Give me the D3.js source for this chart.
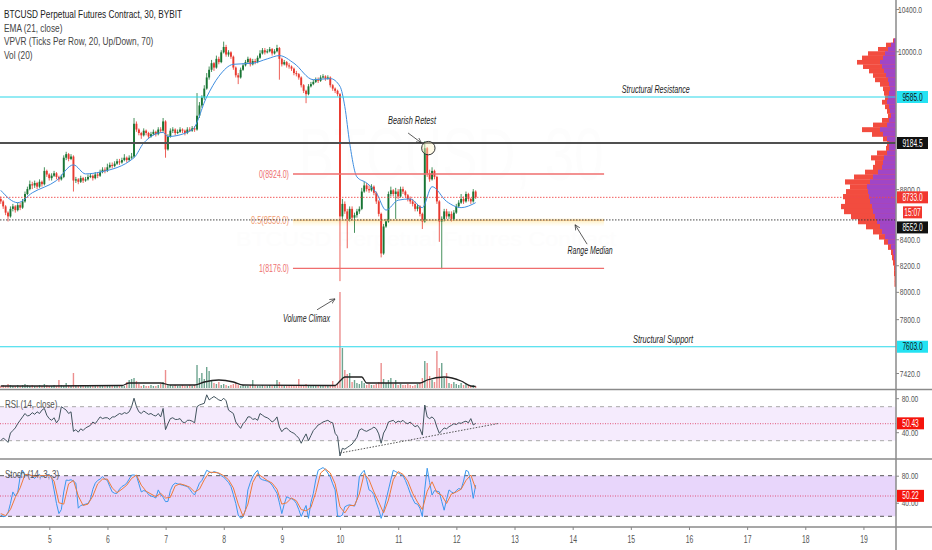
<!DOCTYPE html>
<html>
<head>
<meta charset="utf-8">
<script src="https://cdn.jsdelivr.net/npm/d3@7"></script>
<style>
html, body { margin: 0; padding: 0; background: #fff; overflow: hidden; }
svg { display: block; font-family: "Liberation Sans", Arial, sans-serif; }
</style>
</head>
<body>
<svg id="chart" width="932" height="550"></svg>
<script>
// ---- data (30m BTCUSD, shown here as hourly bars) ----
const startDay = 4.165, barDays = 1 / 24;
const open0 = 8720;
const closes = [8700,8660,8610,8580,8640,8660,8630,8670,8650,8700,8760,8800,8840,8830,8850,8820,8860,8840,8950,
  8920,8890,8910,8930,8900,8880,8900,9060,9090,9050,9070,8870,8880,8860,8890,8870,8880,8900,8910,8890,8920,8910,8940,
  8960,8950,8980,9000,8990,9010,9030,9020,9040,9060,9040,9060,9070,9350,9300,9270,9250,9290,9270,9240,9260,9280,9260,
  9300,9290,9370,9130,9240,9290,9300,9270,9280,9300,9290,9270,9300,9290,9310,9300,9420,9510,9580,9660,9760,9830,9890,
  9850,9930,9900,9990,10040,9970,9990,9950,9850,9780,9760,9830,9870,9900,9930,9880,9910,9900,9940,9980,10010,9990,
  10000,10020,9980,10000,10030,9930,9880,9900,9870,9860,9840,9800,9790,9760,9690,9640,9610,9680,9700,9720,9740,9730,
  9760,9770,9750,9760,9690,9660,9640,9610,8580,8680,8620,8560,8640,8570,8590,8620,8640,8780,8830,8800,8790,8820,8770,
  8700,8600,8290,8500,8540,8760,8790,8760,8780,8740,8800,8780,8750,8720,8700,8680,8640,8660,8600,8540,9140,8930,8880,
  8950,8900,8700,8540,8560,8620,8580,8600,8560,8610,8660,8690,8720,8700,8760,8720,8700,8780,8733];
const highs = [8740,8710,8670,8620,8660,8680,8670,8690,8690,8720,8780,8820,8870,8860,8870,8860,8880,8870,8980,8960,
  8930,8930,8950,8940,8910,8920,9080,9110,9100,9090,9080,8900,8890,8910,8900,8900,8920,8930,8920,8940,8940,8960,8980,
  8980,9010,9020,9020,9030,9050,9050,9060,9090,9070,9080,9100,9400,9370,9310,9280,9310,9300,9280,9280,9300,9290,9320,
  9320,9400,9380,9260,9310,9320,9310,9300,9320,9310,9300,9320,9320,9330,9330,9620,9540,9600,9690,9800,9860,9920,9900,
  9960,9950,10010,10090,10060,10010,10000,9960,9860,9800,9850,9890,9920,9950,9940,9930,9930,9960,10010,10030,10030,
  10020,10040,10030,10020,10060,10040,9940,9920,9910,9890,9870,9850,9820,9800,9770,9700,9650,9700,9720,9740,9760,9760,
  9780,9790,9780,9780,9770,9700,9670,9650,9620,8720,8700,8640,8660,8660,8610,8640,8660,8810,8860,8850,8830,8840,8830,
  8780,8710,8610,8520,8560,8780,8820,8800,8810,8800,8820,8820,8790,8760,8740,8720,8700,8680,8670,8610,9200,9150,8960,
  8980,8960,8910,8710,8580,8640,8640,8620,8620,8630,8680,8710,8760,8740,8780,8770,8730,8800,8790];
const lows = [8680,8640,8590,8540,8570,8620,8610,8620,8630,8640,8690,8750,8790,8800,8810,8800,8810,8820,8830,8900,
  8870,8870,8900,8880,8860,8870,8890,9040,9030,9040,8780,8850,8840,8850,8850,8860,8870,8890,8870,8880,8890,8900,8930,
  8930,8940,8970,8970,8980,9000,9000,9010,9030,9020,9030,9050,9060,9280,9250,9220,9240,9250,9220,9230,9250,9240,9250,
  9270,9280,9060,9120,9230,9270,9250,9260,9270,9270,9250,9260,9280,9280,9280,9290,9400,9490,9560,9650,9740,9810,9820,
  9840,9880,9890,9980,9950,9950,9930,9830,9760,9700,9750,9820,9860,9890,9860,9870,9880,9890,9930,9970,9970,9980,9990,
  9960,9970,9990,9740,9860,9870,9850,9840,9820,9780,9770,9740,9670,9620,9530,9600,9670,9690,9710,9710,9720,9750,9730,
  9740,9670,9640,9620,9590,8080,8560,8600,8330,8540,8550,8450,8570,8600,8630,8770,8780,8770,8780,8750,8680,8580,8260,
  8280,8490,8530,8740,8740,8560,8720,8730,8760,8730,8700,8680,8660,8620,8620,8580,8480,8530,8900,8860,8870,8880,8680,
  8380,8170,8540,8560,8560,8540,8550,8600,8650,8680,8680,8690,8700,8680,8690,8720];
const volumes = [2,3,2,4,3,2,2,3,2,3,4,3,2,3,2,2,3,2,4,3,2,2,3,2,8,3,2,5,3,2,15,3,2,2,3,2,3,2,2,3,2,2,3,2,2,3,2,3,2,2,
  3,2,6,8,9,10,7,4,2,3,2,2,3,2,2,3,4,6,18,4,3,2,3,2,2,3,2,2,3,2,3,23,10,15,9,21,17,8,5,4,6,3,4,3,2,3,4,5,3,2,3,2,2,3,8,
  3,2,2,3,2,2,3,2,3,8,6,3,2,2,3,2,2,3,9,3,2,4,3,2,2,3,2,2,3,2,2,3,7,3,5,96,40,18,14,15,6,8,5,4,7,5,3,4,3,3,4,6,25,9,5,
  8,10,4,8,3,4,3,3,4,3,2,3,4,5,10,27,25,12,8,6,37,20,25,10,15,5,4,6,4,3,5,3,4,3,2,3,2];
const emaIdx = [0,7,13,23,30,35,41,55,59,67,69,79,85,90,96,104,110,115,121,129,136,140,142,144,147,151,155,159,164,169,174,178,184,190,196];
const emaVal = [8790,8690,8770,8870,9000,8925,8940,9060,9185,9275,9240,9297,9585,9770,9880,9890,9930,9960,9890,9740,9750,9680,9500,9185,8900,8850,8770,8630,8710,8720,8650,8820,8700,8650,8690];
const volMaIdx = [0,20,50,53,66,70,80,84,90,96,100,138,140,142,149,151,173,176,183,190,194,196];
const volMaVal = [2,2,2.5,5,5,3,3,6,8,6,3,2.5,7,11,11,5,5,8,11,7,2,1.5];
const rsi = [30,33,31,28,39,42,45,50,54,58,62,59,60,63,61,64,62,66,68,60,56,54,57,51,55,70,68,66,62,64,41,43,40,44,42,
  45,46.5,48,52,50,54,58,56,57,57,55,58,58,60,62,61,63,62,64,70,80,70,64,62,65,63,61,62,60,59,62,58,68,43,50,56,57,55,
  55,56,52,51,54,54,53,51,70,72,73,74,84,78,80,82,80,78,77,80,77,66,64,62,52,48,44.5,50,53,58,58,55,56,54,62,60,58,57,
  55,52,54,58,46,40.6,44,45,42,40,38.7,36,33,27,33,38,30,36,42,45,48.5,50,52,53,54,52,51,38.7,35,12,21,20,22,24,26,30,
  34,42.6,44,42,41,42.6,44,46,44,38,27,39,44,52,53,54,51,53,52,54,51,50,52,49,46.5,48,44,36.6,72,58,56,58,55,46,38.7,
  42,45,44,46.5,48,50,49,51,50.4,52,53,51,56,48.5,50.43];
const stochK = [22,19.5,20,25,39,56,50,55,78.5,88,80,82,81,79,76,80,82,78,80,81,82,78,59,39,24,30,56,73.6,73,74,72,69,
  32,36,37,38,39,45,60,69,73,75,78.5,75,73,64,56,54,54,60,64,66,69,75,81,81,80,68,56,58,57,52,50,49,47,59,52,48,41.6,
  42,58,66,69,68,67,66,65,64,60,55,51.4,60,69,73,80,88,86,84,86,85,83,80,78,74,70,64,52,39,22,17,19,30,59,70,78.5,84,
  88,76,74,73,72,70,66,60,54,40,24,38,49,47,46,44,39,30,19.5,28,36,17,40,54,73.6,88,90,92,89,84,78,68,59,20.4,19.5,22,
  34,36,37,36,35,45,78.5,84,88,74,59,57,52,40,30,17,28,44,59,74,88,86,84,82,80,73,64,54,46,39,38,32,19.5,60,91,70,51.4,
  58,57,56,42,29,45,59,56,54,58,61,60,72,88,86,70,46.5,66];
// %D sampled every second bar
const stochD = [24,21,30,48,62,82,81,79,80,80,81,72,40,38,68,73,50,36,38,50,68,75,75,62,55,60,66,76,81,66,57,53,49,54,
  47,48,65,68,66,63,56,60,74,85,85,84,80,74,62,38,20,38,70,83,78,73,69,60,38,40,47,43,30,28,33,55,84,90,84,68,34,25,36,
  36,53,83,74,56,41,25,44,74,86,82,72,54,41,30,57,71,55,51,39,53,56,60,73,81,61];
// visible range volume profile (row centre price, up volume, down volume)
const vpPrice = [10100,10060,10020,9980,9940,9900,9860,9820,9780,9740,9700,9660,9620,9580,9540,9500,9460,9420,9380,9340,
  9300,9260,9220,9180,9140,9100,9060,9020,8980,8940,8900,8860,8820,8780,8740,8700,8660,8620,8580,8540,8500,8460,8420,
  8380,8340,8300,8260,8220,8180,8140,8100,8060];
const vpUp = [2,5,8,11,13,16,14,12,10,8,7,6,7,8,9,7,6,5,7,9,16,13,9,7,7,9,12,13,14,18,23,26,29,28,27,26,24,23,21,19,16,
  14,11,8,5,3,2,1,0.5,0,0,0];
const vpDown = [1,5,10,17,21,23,19,15,13,13,9,7,5,3,5,4,3,3,7,14,18,11,4,2,3,10,13,8,9,13,19,25,17,22,26,25,31,29,24,19,
  14,9,6,4,3,2,2,2,1.5,2,1.5,1.5];
const dayTicks = [5,6,7,8,9,10,11,12,13,14,15,16,17,18,19];
const priceTicks = [10400,10000,8800,8400,8200,8000,7800,7420];
const fibPrices = [8924.0, 8550.0, 8176.0];
const fibNames = ["0", "0.5", "1"];
const fibDays = [9.19, 14.54];
const rsiTrend = [[10.0, 15.5], [12.74, 50.5]];
const legendLines = ["BTCUSD Perpetual Futures Contract, 30, BYBIT", "EMA (21, close)", "VPVR (Ticks Per Row, 20, Up/Down, 70)", "Vol (20)"];

window.addEventListener("load", main);

function narrow(sel, k)
{
    sel.each(function() {
        const w = this.getComputedTextLength();
        d3.select(this).attr("textLength", w * k).attr("lengthAdjust", "spacingAndGlyphs");
    });
}

function main()
{
    const svg = d3.select("svg#chart");
    const plotR = 896;
    const tAt = i => startDay + i * barDays;

    const x = d3.scaleLinear().domain([4.152, 19.56]).range([0, plotR]);
    const y = d3.scaleLog().domain([10400, 7420]).range([9, 373]);
    const yVol = d3.scaleLinear().domain([0, 100]).range([388, 288]);
    const yRsi = d3.scaleLinear().domain([70, 30]).range([406.7, 440.7]);
    const ySto = d3.scaleLinear().domain([80, 20]).range([475.7, 516.3]);
    const vpW = d3.scaleLinear().domain([0, 100]).range([0, 100]);

    const upC = "#187534", dnC = "#e8392f";

    const defs = svg.append("defs");
    defs.append("marker").attr("id", "arr").attr("viewBox", "0 0 8 8")
        .attr("refX", 7.5).attr("refY", 4).attr("markerWidth", 7).attr("markerHeight", 7).attr("orient", "auto")
        .append("path").attr("d", "M0,0.5 L7.5,4 L0,7.5").attr("fill", "none").attr("stroke", "#333").attr("stroke-width", 1);
    const glow = defs.append("linearGradient").attr("id", "glow").attr("x1", 0).attr("x2", 0).attr("y1", 0).attr("y2", 1);
    glow.append("stop").attr("offset", "0%").attr("stop-color", "#fff6da").attr("stop-opacity", 0.4);
    glow.append("stop").attr("offset", "40%").attr("stop-color", "#fff2cc").attr("stop-opacity", 1);
    glow.append("stop").attr("offset", "100%").attr("stop-color", "#fffaeb").attr("stop-opacity", 0.2);

    // watermark (barely visible in the reference)
    svg.append("text").text("BTCUSD, 30").attr("x", 451).attr("y", 180).attr("text-anchor", "middle")
        .attr("font-size", 74).attr("fill", "#fdfdfd")
        .attr("textLength", 305).attr("lengthAdjust", "spacingAndGlyphs");
    svg.append("text").text("BTCUSD Perpetual Futures Contract").attr("x", 426).attr("y", 246).attr("text-anchor", "middle")
        .attr("font-size", 20).attr("fill", "#fdfdfd")
        .attr("textLength", 380).attr("lengthAdjust", "spacingAndGlyphs");

    // ---- oscillator backgrounds ----
    svg.append("rect").attr("x", 0).attr("width", plotR).attr("y", yRsi(70)).attr("height", yRsi(30) - yRsi(70)).attr("fill", "#f5ebfd");
    svg.append("rect").attr("x", 0).attr("width", plotR).attr("y", ySto(80)).attr("height", ySto(20) - ySto(80)).attr("fill", "#e8d6fb");
    [70, 30].forEach(v => svg.append("line").attr("x1", 0).attr("x2", plotR).attr("y1", yRsi(v)).attr("y2", yRsi(v))
        .attr("stroke", "#a8a8a8").attr("stroke-dasharray", "4,4"));
    [80, 20].forEach(v => svg.append("line").attr("x1", 0).attr("x2", plotR).attr("y1", ySto(v)).attr("y2", ySto(v))
        .attr("stroke", "#555").attr("stroke-dasharray", "4,4"));
    svg.append("line").attr("x1", 0).attr("x2", plotR).attr("y1", yRsi(50)).attr("y2", yRsi(50))
        .attr("stroke", "#e0587a").attr("stroke-dasharray", "1,1.5");
    svg.append("line").attr("x1", 0).attr("x2", plotR).attr("y1", ySto(50)).attr("y2", ySto(50))
        .attr("stroke", "#e0507a").attr("stroke-dasharray", "1,1.5");

    // ---- volume ----
    svg.append("g").selectAll("rect").data(volumes).join("rect")
        .attr("x", (d, i) => x(tAt(i)) - 0.7).attr("width", 1.4)
        .attr("y", d => yVol(d)).attr("height", d => yVol(0) - yVol(d))
        .attr("fill", (d, i) => closes[i] >= (i ? closes[i - 1] : open0) ? "#6ea590" : "#ec8e8e");
    svg.append("path").datum(volMaIdx)
        .attr("d", d3.line().x(i => x(tAt(i))).y((i, k) => yVol(volMaVal[k])).curve(d3.curveMonotoneX))
        .attr("fill", "none").attr("stroke", "#222").attr("stroke-width", 1.3);

    // ---- volume profile ----
    const vp = svg.append("g");
    vpPrice.forEach((p, k) => {
        const top = y(p + 20), h = y(p - 20) - y(p + 20);
        vp.append("rect").attr("x", plotR - vpW(vpUp[k] + vpDown[k])).attr("width", vpW(vpUp[k] + vpDown[k]))
            .attr("y", top).attr("height", h + 0.3).attr("fill", "#f24c3f");
        vp.append("rect").attr("x", plotR - vpW(vpUp[k])).attr("width", vpW(vpUp[k]))
            .attr("y", top).attr("height", h + 0.3).attr("fill", "#a046c6");
    });

    // ---- fib background glow (behind candles) ----
    const fx0 = x(fibDays[0]), fx1 = x(fibDays[1]);
    svg.append("rect").attr("x", fx0).attr("width", fx1 - fx0).attr("y", y(fibPrices[1]) - 2).attr("height", 8)
        .attr("fill", "url(#glow)");

    // ---- candles ----
    const candles = closes.map((c, i) => ({ t: tAt(i), o: i ? closes[i - 1] : open0, c: c, h: highs[i], l: lows[i] }));
    const gC = svg.append("g");
    gC.selectAll("line").data(candles).join("line")
        .attr("x1", d => x(d.t)).attr("x2", d => x(d.t))
        .attr("y1", d => y(d.h)).attr("y2", d => y(d.l))
        .attr("stroke", d => d.c >= d.o ? upC : dnC).attr("stroke-width", 0.8);
    gC.selectAll("rect").data(candles).join("rect")
        .attr("x", d => x(d.t) - 0.95).attr("width", 1.9)
        .attr("y", d => y(Math.max(d.o, d.c)))
        .attr("height", d => Math.max(0.8, Math.abs(y(d.o) - y(d.c))))
        .attr("fill", d => d.c >= d.o ? upC : dnC);

    // EMA 21
    svg.append("path").datum(emaIdx)
        .attr("d", d3.line().x(i => x(tAt(i))).y((i, k) => y(emaVal[k])).curve(d3.curveMonotoneX))
        .attr("fill", "none").attr("stroke", "#3f8ee0").attr("stroke-width", 1);

    // ---- horizontal levels ----
    const hline = (p, col, w, dash) => svg.append("line").attr("x1", 0).attr("x2", plotR)
        .attr("y1", y(p)).attr("y2", y(p)).attr("stroke", col).attr("stroke-width", w).attr("stroke-dasharray", dash);
    hline(9585, "#2ad8ea", 1.2, null);
    hline(7603, "#2ad8ea", 1.2, null);
    hline(9184.5, "#505050", 2, null);
    hline(8733, "#f04848", 0.9, "1.5,1.5");

    // ---- fib retracement levels ----
    const fibW = [30, 38, 30];
    fibPrices.forEach((p, k) => {
        const col = k === 1 ? "#f0b46a" : "#ef6e6e";
        svg.append("line").attr("x1", fx0).attr("x2", fx1).attr("y1", y(p)).attr("y2", y(p))
            .attr("stroke", col).attr("stroke-width", k === 1 ? 1 : 1.4);
        svg.append("text").text(fibNames[k] + "(" + p.toFixed(1) + ")")
            .attr("x", fx0 - 4).attr("y", y(p) + 3.8).attr("text-anchor", "end")
            .attr("font-size", 10.5).attr("fill", k === 1 ? "#f09a70" : "#ee6f6f")
            .attr("textLength", fibW[k]).attr("lengthAdjust", "spacingAndGlyphs");
    });
    hline(8552, "#333", 0.9, "1.5,1.5");

    // ---- annotations ----
    const note = (txt, d, p, w) => svg.append("text").text(txt).attr("x", x(d)).attr("y", y(p))
        .attr("text-anchor", "middle").attr("font-size", 10).attr("font-style", "italic").attr("fill", "#1c1c1c")
        .attr("textLength", w).attr("lengthAdjust", "spacingAndGlyphs");
    const arrow = (d0, p0, d1, p1) => svg.append("line").attr("x1", x(d0)).attr("y1", y(p0)).attr("x2", x(d1)).attr("y2", y(p1))
        .attr("stroke", "#333").attr("stroke-width", 0.8).attr("marker-end", "url(#arr)");
    note("Bearish Retest", 11.237, 9349, 48);
    arrow(11.17, 9270, 11.40, 9185);
    svg.append("circle").attr("cx", x(11.518)).attr("cy", y(9141)).attr("r", 6.7)
        .attr("fill", "#fff3c8").attr("fill-opacity", 0.45).attr("stroke", "#333").attr("stroke-width", 1);
    note("Range Median", 14.30, 8286, 45);
    arrow(14.248, 8362, 14.041, 8514);
    note("Structural Resistance", 15.43, 9621, 68);
    note("Structural Support", 15.554, 7630, 60);
    note("Volume Climax", 9.423, 7780, 47);
    arrow(9.604, 7868, 9.914, 7948);

    // ---- oscillators ----
    svg.append("path").datum(rsi)
        .attr("d", d3.line().x((d, i) => x(tAt(i))).y(d => yRsi(d)))
        .attr("fill", "none").attr("stroke", "#42545e").attr("stroke-width", 1);
    svg.append("line").attr("x1", x(rsiTrend[0][0])).attr("y1", yRsi(rsiTrend[0][1]))
        .attr("x2", x(rsiTrend[1][0])).attr("y2", yRsi(rsiTrend[1][1]))
        .attr("stroke", "#555").attr("stroke-width", 1).attr("stroke-dasharray", "1.5,1.5");
    svg.append("path").datum(stochK)
        .attr("d", d3.line().x((d, i) => x(tAt(i))).y(d => ySto(d)))
        .attr("fill", "none").attr("stroke", "#3a98ee").attr("stroke-width", 1);
    svg.append("path").datum(stochD)
        .attr("d", d3.line().x((d, k) => x(tAt(k * 2))).y(d => ySto(d)))
        .attr("fill", "none").attr("stroke", "#ee7a3a").attr("stroke-width", 1);

    // ---- legends ----
    legendLines.forEach((s, k) => {
        const t = svg.append("text").text(s).attr("x", 4).attr("y", 18 + k * 13.7)
            .attr("font-size", 11.5).attr("fill", k === 0 ? "#222" : "#444");
        narrow(t, 0.72);
    });
    narrow(svg.append("text").text("RSI (14, close)").attr("x", 5).attr("y", 408).attr("font-size", 11).attr("fill", "#555"), 0.72);
    narrow(svg.append("text").text("Stoch (14, 3, 3)").attr("x", 5).attr("y", 478).attr("font-size", 11).attr("fill", "#555"), 0.72);

    // ---- pane separators & axes ----
    [389.5, 459, 527].forEach(v => svg.append("line").attr("x1", 0).attr("x2", 932).attr("y1", v).attr("y2", v)
        .attr("stroke", "#8a8a8a").attr("stroke-width", 1.5));
    svg.append("line").attr("x1", plotR).attr("x2", plotR).attr("y1", 0).attr("y2", 550)
        .attr("stroke", "#8a8a8a").attr("stroke-width", 1.5);

    const styleAxis = (g, k, size) => {
        g.select(".domain").remove();
        g.selectAll(".tick line").attr("stroke", "#888");
        g.selectAll(".tick text").attr("fill", "#555").attr("font-size", size).attr("font-family", "Liberation Sans, Arial, sans-serif");
        narrow(g.selectAll(".tick text"), k);
    };
    const rightAxis = (scale, ticks, fmt) => {
        const g = svg.append("g").attr("transform", `translate(${plotR},0)`)
            .call(d3.axisRight(scale).tickValues(ticks).tickFormat(d3.format(fmt)).tickSize(3));
        styleAxis(g, 0.7, 9.5);
        g.selectAll(".tick text").attr("x", 14).attr("text-anchor", "middle");
        return g;
    };
    rightAxis(y, priceTicks, ".1f");
    rightAxis(yRsi, [80, 40], ".2f");
    rightAxis(ySto, [80, 40], ".2f");
    const gT = svg.append("g").attr("transform", "translate(0,527)")
        .call(d3.axisBottom(x).tickValues(dayTicks).tickFormat(d3.format("d")).tickSize(3).tickPadding(5));
    styleAxis(gT, 0.62, 11);

    // ---- price / value tags on the axis ----
    const tag = (cy, txt, bg, fg, x0, x1) => {
        svg.append("rect").attr("x", x0).attr("width", x1 - x0).attr("y", cy - 6).attr("height", 12).attr("fill", bg);
        const t = svg.append("text").text(txt).attr("x", (x0 + x1) / 2).attr("y", cy + 3.6)
            .attr("text-anchor", "middle").attr("font-size", 10).attr("fill", fg);
        narrow(t, 0.66);
    };
    tag(y(9585), "9585.0", "#24e2f2", "#111", 897, 928);
    tag(y(9184.5), "9184.5", "#111", "#fff", 897, 928);
    tag(y(8733), "8733.0", "#f2362e", "#fff", 897, 928);
    tag(y(8733) + 15, "15:07", "#f2362e", "#fff", 903, 922);
    tag(y(8552) + 7.5, "8552.0", "#111", "#fff", 897, 928);
    tag(y(7603), "7603.0", "#24e2f2", "#111", 897, 928);
    tag(yRsi(50.43), "50.43", "#f5140c", "#fff", 897, 924);
    tag(ySto(50.22), "50.22", "#f5140c", "#fff", 897, 924);
}
</script>
</body>
</html>
